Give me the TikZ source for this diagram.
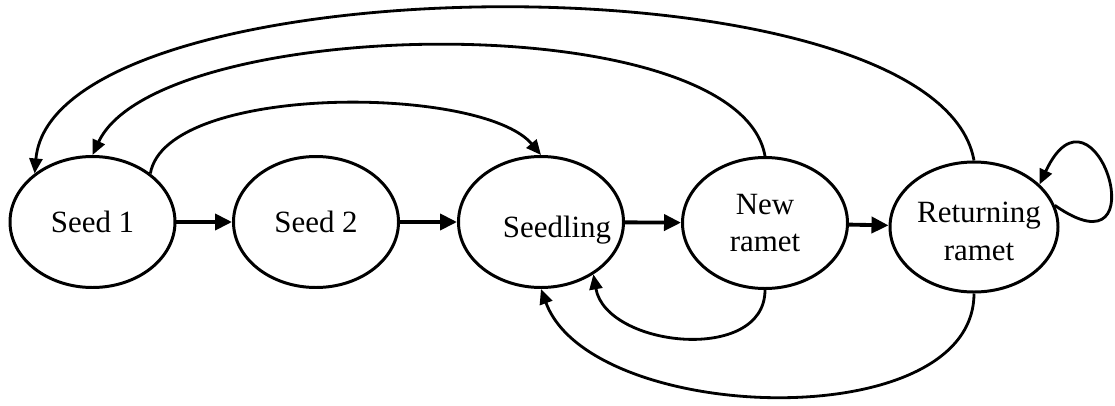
\documentclass[tikz,border=0pt]{standalone}
\usepackage{fontspec}
\setmainfont{Liberation Serif}
\usepackage{tikz}
\usetikzlibrary{shapes.geometric,arrows.meta}
\tikzset{stage/.style={ellipse,draw,line width=1.7pt,minimum width=3.3cm,minimum height=2.62cm,inner sep=0pt,align=center,font=\fontsize{17.6}{21.5}\selectfont}}
\tikzset{arr/.style={line width=1.6pt,-{Triangle[length=0.3cm,width=0.26cm]}}}
\tikzset{step arr/.style={line width=2.2pt,-{Triangle[length=0.34cm,width=0.32cm]}}}
% text set off the centre of its ellipse
\newcommand{\offtxt}[3]{\raisebox{#2}[\height][\depth]{\makebox[0pt]{\hspace*{#1}\hspace*{#1}#3}}}

\begin{document}
\begin{tikzpicture}
    \useasboundingbox (0,0) rectangle (22.3,8.1);

    \node[stage] (s1)at (1.85,3.66) {Seed 1};
    \node[stage] (s2)at (6.32,3.66) {Seed 2};
    \node[stage] (sdl)at (10.82,3.66) {\offtxt{0.32cm}{-0.16cm}{Seedling}};
    \node[stage] (nr)at (15.30,3.64) {New\\ramet};
    \node[stage,minimum width=3.36cm,minimum height=2.6cm] (rr)at (19.48,3.56) {\offtxt{0.1cm}{-0.14cm}{\begin{tabular}{@{}c@{}}Returning\\ramet\end{tabular}}};

    \draw [step arr] (s1) -- (s2);
    \draw [step arr] (s2) -- (sdl);
    \draw [step arr] (sdl) -- (nr);
    \draw [step arr] (nr) -- (rr);

    \draw [arr] (s1.40) to [out=80,in=130,looseness=0.6] (sdl.north);
    \draw [arr] (nr.north) to [out=100,in=65,looseness=0.59] (s1.north);
    \draw [arr] (rr.north) to [out=100,in=85,looseness=0.58] (s1.140);
    \draw [arr] (nr.south) to [out=-90,in=-80,looseness=1.1] (sdl.-45);
    \draw [arr] (rr.south) to [out=-90,in=-70,looseness=0.85] (sdl.south);
    \draw [arr] (rr.15) to [out=-35,in=65,distance=2.6cm] (rr.33);
\end{tikzpicture}
\end{document}
